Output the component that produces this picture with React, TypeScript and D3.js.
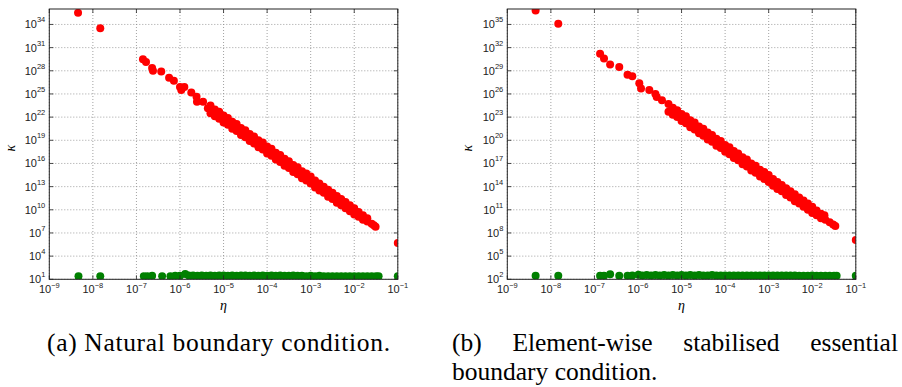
import React, { useRef, useEffect } from "react";
import * as d3 from "d3";

// all values are log10 exponents: [log10 eta, log10 kappa]
const etaTicks = [-9, -8, -7, -6, -5, -4, -3, -2, -1];
const kappaTicksA = [1, 4, 7, 10, 13, 16, 19, 22, 25, 28, 31, 34];
const kappaTicksB = [2, 5, 8, 11, 14, 17, 20, 23, 26, 29, 32, 35];

// (a) natural boundary condition
const redA: [number, number][] = [
  [-8.34, 35.5], [-7.83, 33.5],
  [-6.85, 29.5], [-6.78, 29.15], [-6.64, 28.35], [-6.62, 28.0], [-6.43, 27.9],
  [-6.25, 27.1], [-6.14, 26.7], [-6.0, 25.9], [-5.97, 25.5], [-5.9, 25.9],
  [-5.74, 25.2], [-5.62, 24.65], [-5.61, 24.0], [-5.47, 24.0], [-5.36, 23.15],
  [-5.3, 23.5], [-5.3, 22.5], [-5.2, 23.0], [-5.2, 22.1], [-5.1, 22.7], [-5.1, 21.8],
  [-5.0, 22.2], [-5.0, 21.3], [-4.9, 21.9], [-4.9, 21.0], [-4.8, 21.4], [-4.8, 20.5],
  [-4.7, 21.1], [-4.7, 20.2], [-4.6, 20.6], [-4.6, 19.7], [-4.5, 20.3], [-4.5, 19.4],
  [-4.4, 19.8], [-4.4, 18.9], [-4.3, 19.5], [-4.3, 18.6], [-4.2, 19.0], [-4.2, 18.1],
  [-4.1, 18.7], [-4.1, 17.8], [-4.0, 18.2], [-4.0, 17.3], [-3.9, 17.9], [-3.9, 17.0],
  [-3.8, 17.4], [-3.8, 16.5], [-3.7, 17.1], [-3.7, 16.2], [-3.6, 16.6], [-3.6, 15.7],
  [-3.5, 16.3], [-3.5, 15.4], [-3.4, 15.8], [-3.4, 14.9], [-3.3, 15.5], [-3.3, 14.6],
  [-3.2, 15.0], [-3.2, 14.1], [-3.1, 14.7], [-3.1, 13.8], [-3.0, 14.3], [-3.0, 13.4],
  [-2.9, 13.8], [-2.9, 12.9], [-2.8, 13.4], [-2.8, 12.5], [-2.7, 13.0], [-2.7, 12.2],
  [-2.6, 12.6], [-2.6, 11.7], [-2.5, 12.2], [-2.5, 11.4], [-2.4, 11.8], [-2.4, 10.9],
  [-2.3, 11.4], [-2.3, 10.6], [-2.2, 11.0], [-2.2, 10.2], [-2.1, 10.6], [-2.1, 9.8],
  [-2.0, 10.2], [-2.0, 9.4], [-1.9, 9.7], [-1.9, 9.1], [-1.8, 9.3], [-1.8, 8.7],
  [-1.7, 8.9], [-1.7, 8.5], [-1.6, 8.2], [-1.55, 8.0], [-1.51, 7.8],
  [-1.0, 5.7],
];
const greenA: [number, number][] = [
  [-8.33, 1.4], [-7.83, 1.4], [-6.83, 1.4], [-6.75, 1.4], [-6.64, 1.45], [-6.41, 1.4],
  [-6.22, 1.4], [-6.11, 1.45], [-6.0, 1.45], [-5.88, 1.7], [-5.8, 1.5], [-5.7, 1.5],
  [-5.6, 1.45], [-5.5, 1.5], [-5.4, 1.45], [-5.3, 1.5], [-5.2, 1.45], [-5.1, 1.5],
  [-5.0, 1.5], [-4.9, 1.45], [-4.8, 1.5], [-4.7, 1.45], [-4.6, 1.5], [-4.5, 1.5],
  [-4.4, 1.45], [-4.3, 1.5], [-4.2, 1.45], [-4.1, 1.5], [-4.0, 1.45], [-3.9, 1.5],
  [-3.8, 1.45], [-3.7, 1.5], [-3.6, 1.45], [-3.5, 1.45], [-3.4, 1.5], [-3.3, 1.45],
  [-3.2, 1.45], [-3.1, 1.4], [-3.0, 1.45], [-2.9, 1.4], [-2.8, 1.45], [-2.7, 1.4],
  [-2.6, 1.4], [-2.5, 1.4], [-2.4, 1.4], [-2.3, 1.4], [-2.2, 1.4], [-2.1, 1.4],
  [-2.0, 1.4], [-1.9, 1.4], [-1.8, 1.4], [-1.7, 1.4], [-1.6, 1.4], [-1.5, 1.4],
  [-1.44, 1.4], [-1.0, 1.4],
];

// (b) element-wise stabilised essential boundary condition
const redB: [number, number][] = [
  [-8.35, 36.8], [-7.83, 35.1],
  [-6.87, 31.2], [-6.78, 30.6], [-6.64, 29.8], [-6.43, 29.5], [-6.24, 28.5],
  [-6.13, 28.3], [-5.97, 27.4], [-5.93, 26.7], [-5.74, 26.5], [-5.6, 26.0],
  [-5.57, 25.6], [-5.45, 25.2],
  [-5.3, 24.7], [-5.3, 23.7], [-5.2, 24.2], [-5.2, 23.3], [-5.1, 23.9], [-5.1, 23.0],
  [-5.0, 23.4], [-5.0, 22.5], [-4.9, 23.1], [-4.9, 22.2], [-4.8, 22.6], [-4.8, 21.7],
  [-4.7, 22.3], [-4.7, 21.4], [-4.6, 21.8], [-4.6, 20.9], [-4.5, 21.5], [-4.5, 20.6],
  [-4.4, 21.0], [-4.4, 20.1], [-4.3, 20.7], [-4.3, 19.8], [-4.2, 20.2], [-4.2, 19.3],
  [-4.1, 19.9], [-4.1, 19.0], [-4.0, 19.4], [-4.0, 18.5], [-3.9, 19.1], [-3.9, 18.2],
  [-3.8, 18.6], [-3.8, 17.7], [-3.7, 18.3], [-3.7, 17.4], [-3.6, 17.8], [-3.6, 16.9],
  [-3.5, 17.5], [-3.5, 16.6], [-3.4, 17.0], [-3.4, 16.1], [-3.3, 16.7], [-3.3, 15.8],
  [-3.2, 16.2], [-3.2, 15.3], [-3.1, 15.9], [-3.1, 15.0], [-3.0, 15.5], [-3.0, 14.6],
  [-2.9, 15.0], [-2.9, 14.1], [-2.8, 14.6], [-2.8, 13.7], [-2.7, 14.2], [-2.7, 13.4],
  [-2.6, 13.8], [-2.6, 12.9], [-2.5, 13.4], [-2.5, 12.6], [-2.4, 13.0], [-2.4, 12.1],
  [-2.3, 12.6], [-2.3, 11.8], [-2.2, 12.2], [-2.2, 11.4], [-2.1, 11.8], [-2.1, 11.0],
  [-2.0, 11.4], [-2.0, 10.6], [-1.9, 10.9], [-1.9, 10.3], [-1.8, 10.5], [-1.8, 9.9],
  [-1.72, 10.3], [-1.7, 9.7], [-1.6, 9.4], [-1.52, 9.1], [-1.47, 8.9],
  [-1.0, 7.1],
];
const greenB: [number, number][] = [
  [-8.35, 2.45], [-7.83, 2.45], [-6.87, 2.45], [-6.78, 2.45], [-6.64, 2.65], [-6.43, 2.45],
  [-6.24, 2.45], [-6.13, 2.5], [-5.99, 2.6], [-5.9, 2.5], [-5.8, 2.55], [-5.7, 2.5],
  [-5.6, 2.55], [-5.5, 2.5], [-5.4, 2.55], [-5.3, 2.5], [-5.2, 2.55], [-5.1, 2.5],
  [-5.0, 2.55], [-4.9, 2.5], [-4.8, 2.55], [-4.7, 2.5], [-4.6, 2.55], [-4.5, 2.5],
  [-4.4, 2.5], [-4.3, 2.55], [-4.2, 2.5], [-4.1, 2.5], [-4.0, 2.5], [-3.9, 2.5],
  [-3.8, 2.5], [-3.7, 2.5], [-3.6, 2.5], [-3.5, 2.5], [-3.4, 2.5], [-3.3, 2.5],
  [-3.2, 2.5], [-3.1, 2.5], [-3.0, 2.5], [-2.9, 2.5], [-2.8, 2.5], [-2.7, 2.5],
  [-2.6, 2.5], [-2.5, 2.5], [-2.4, 2.5], [-2.3, 2.45], [-2.2, 2.45], [-2.1, 2.45],
  [-2.0, 2.5], [-1.9, 2.45], [-1.8, 2.45], [-1.7, 2.45], [-1.6, 2.45], [-1.5, 2.45],
  [-1.44, 2.45], [-1.0, 2.45],
];

const tickFont = "'Liberation Sans Narrow', 'Liberation Sans', Arial, sans-serif";
const serif = "'Liberation Serif', 'DejaVu Serif', serif";

const App = () => {
  const ref = useRef<SVGSVGElement>(null);

  useEffect(() => {
    document.body.style.margin = "0";
    const svg = d3.select(ref.current);
    svg.selectAll("*").remove();

    const top = 9;
    const bottom = 279.3;
    const axW = 348.5;
    const panels = [
      { id: "a", x0: 49.3, red: redA, green: greenA, yTicks: kappaTicksA, yDom: [1, 36], kx: 15 },
      { id: "b", x0: 507.3, red: redB, green: greenB, yTicks: kappaTicksB, yDom: [2, 37], kx: 472 },
    ];

    panels.forEach((p) => {
      const x = d3.scaleLog().domain([1e-9, 1e-1]).range([p.x0, p.x0 + axW]);
      const y = d3
        .scaleLog()
        .domain([Math.pow(10, p.yDom[0]), Math.pow(10, p.yDom[1])])
        .range([bottom, top]);
      const g = svg.append("g");

      g.append("clipPath")
        .attr("id", "clip-" + p.id)
        .append("rect")
        .attr("x", p.x0)
        .attr("y", top)
        .attr("width", axW)
        .attr("height", bottom - top);

      // dotted grid
      const grid = g.append("g").attr("stroke", "#8a8a8a").attr("stroke-width", 0.8).attr("stroke-dasharray", "1,2");
      etaTicks.forEach((e) => {
        const xx = x(Math.pow(10, e));
        grid.append("line").attr("x1", xx).attr("x2", xx).attr("y1", top).attr("y2", bottom);
      });
      p.yTicks.forEach((k) => {
        const yy = y(Math.pow(10, k));
        grid.append("line").attr("x1", p.x0).attr("x2", p.x0 + axW).attr("y1", yy).attr("y2", yy);
      });

      // scatter
      const pts = g.append("g").attr("clip-path", `url(#clip-${p.id})`);
      pts
        .selectAll("circle.g")
        .data(p.green)
        .enter()
        .append("circle")
        .attr("cx", (d) => x(Math.pow(10, d[0])))
        .attr("cy", (d) => y(Math.pow(10, d[1])))
        .attr("r", 4)
        .attr("fill", "#008000");
      pts
        .selectAll("circle.r")
        .data(p.red)
        .enter()
        .append("circle")
        .attr("cx", (d) => x(Math.pow(10, d[0])))
        .attr("cy", (d) => y(Math.pow(10, d[1])))
        .attr("r", 4)
        .attr("fill", "#ff0000");

      // inward ticks on all four sides
      const tk = g.append("g").attr("stroke", "#222").attr("stroke-width", 0.8);
      etaTicks.forEach((e) => {
        const xx = x(Math.pow(10, e));
        tk.append("line").attr("x1", xx).attr("x2", xx).attr("y1", bottom).attr("y2", bottom - 4);
        tk.append("line").attr("x1", xx).attr("x2", xx).attr("y1", top).attr("y2", top + 4);
      });
      p.yTicks.forEach((k) => {
        const yy = y(Math.pow(10, k));
        tk.append("line").attr("x1", p.x0).attr("x2", p.x0 + 4).attr("y1", yy).attr("y2", yy);
        tk.append("line").attr("x1", p.x0 + axW).attr("x2", p.x0 + axW - 4).attr("y1", yy).attr("y2", yy);
      });

      g.append("rect")
        .attr("x", p.x0)
        .attr("y", top)
        .attr("width", axW)
        .attr("height", bottom - top)
        .attr("fill", "none")
        .attr("stroke", "#222")
        .attr("stroke-width", 1);

      // tick labels 10^n
      etaTicks.forEach((e) => {
        const t = g
          .append("text")
          .attr("x", x(Math.pow(10, e)))
          .attr("y", bottom + 13.6)
          .attr("text-anchor", "middle")
          .attr("font-family", tickFont)
          .attr("font-size", 11)
          .attr("fill", "#222");
        t.append("tspan").text("10");
        t.append("tspan").attr("dy", -5).attr("font-size", 7.5).text(String(e).replace("-", "\u2212"));
      });
      p.yTicks.forEach((k) => {
        const t = g
          .append("text")
          .attr("x", p.x0 - 4)
          .attr("y", y(Math.pow(10, k)) + 4)
          .attr("text-anchor", "end")
          .attr("font-family", tickFont)
          .attr("font-size", 11)
          .attr("fill", "#222");
        t.append("tspan").text("10");
        t.append("tspan").attr("dy", -6).attr("font-size", 7.5).text(String(k));
      });

      // axis labels
      g.append("text")
        .attr("transform", `translate(${p.kx},${(top + bottom) / 2 + 4}) rotate(-90)`)
        .attr("text-anchor", "middle")
        .attr("font-family", serif)
        .attr("font-style", "italic")
        .attr("font-size", 14)
        .text("\u03ba");
      g.append("text")
        .attr("x", p.x0 + axW / 2)
        .attr("y", 310)
        .attr("text-anchor", "middle")
        .attr("font-family", serif)
        .attr("font-style", "italic")
        .attr("font-size", 14)
        .text("\u03b7");
    });

    // captions
    const cap = svg.append("g").attr("font-family", serif).attr("font-size", 25.5).attr("fill", "#000");
    cap.append("text").attr("x", 47).attr("y", 351).attr("textLength", 343).attr("lengthAdjust", "spacing").text("(a) Natural boundary condition.");

    const words = ["(b)", "Element-wise", "stabilised", "essential"];
    const lineL = 452;
    const lineR = 898;
    const nodes = words.map((w) => cap.append("text").attr("y", 351).text(w));
    const widths = nodes.map((n) => (n.node() as SVGTextElement).getComputedTextLength());
    const gap = (lineR - lineL - d3.sum(widths)) / (words.length - 1);
    let cx = lineL;
    nodes.forEach((n, i) => {
      n.attr("x", cx);
      cx += widths[i] + gap;
    });
    cap.append("text").attr("x", lineL).attr("y", 380).text("boundary condition.");
  }, []);

  return (
    <div style={{ position: "absolute", left: 0, top: 0 }}>
      <svg ref={ref} width={902} height={387} style={{ display: "block", background: "#fff" }}></svg>
    </div>
  );
};

export default App;
